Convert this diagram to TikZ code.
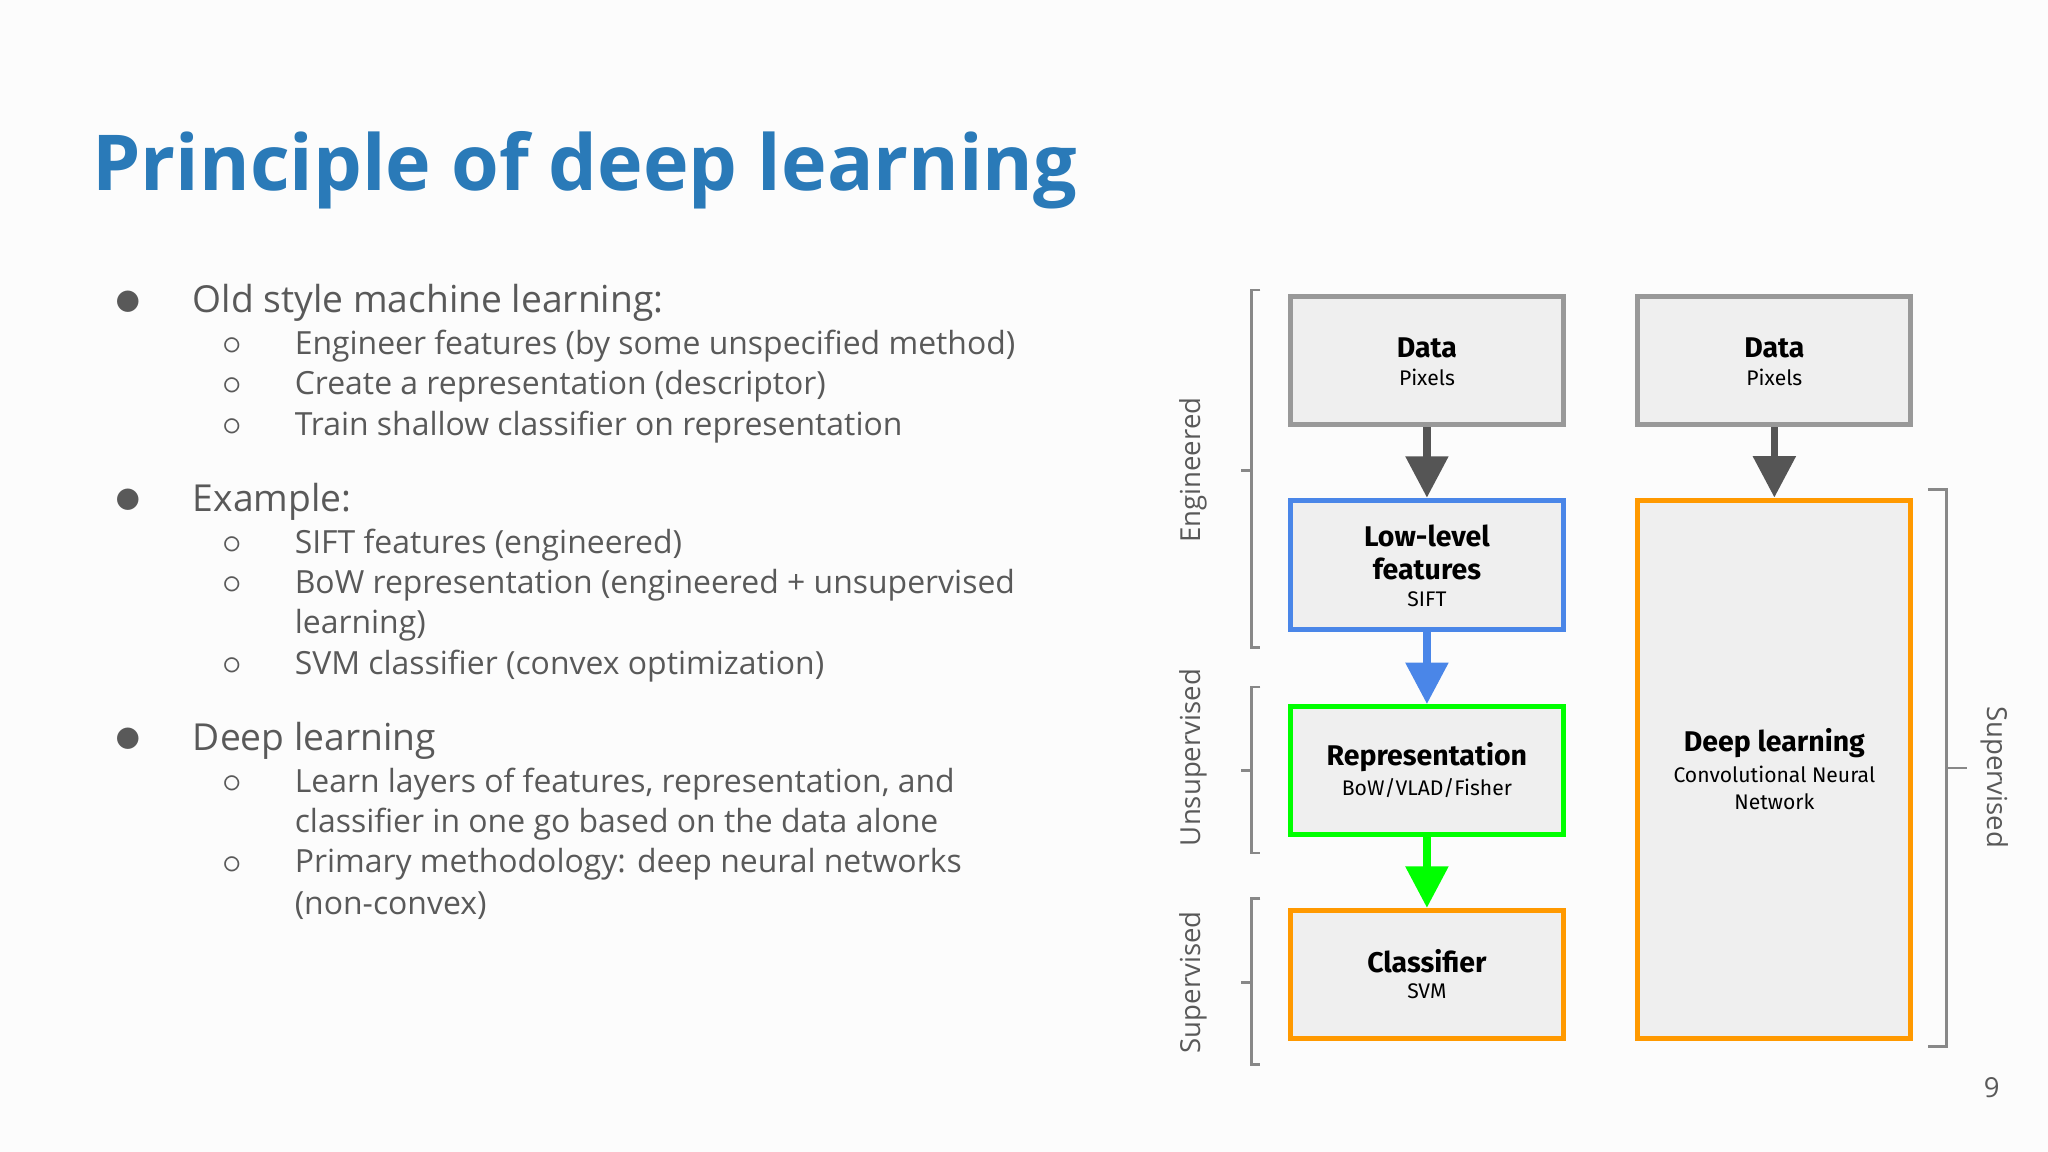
\documentclass[tikz,border=0pt]{standalone}
\usepackage{fontspec}
\setmainfont{Open Sans}
\newfontfamily\boxf{Fira Sans}
\usetikzlibrary{arrows.meta}
\definecolor{tblue}{HTML}{2A7AB8}
\definecolor{txt}{HTML}{595959}
\definecolor{bgray}{HTML}{999999}
\definecolor{bfill}{HTML}{EFEFEF}
\definecolor{bblue}{HTML}{4A86E8}
\definecolor{bgreen}{HTML}{00FF00}
\definecolor{borange}{HTML}{FF9900}
\definecolor{agray}{HTML}{555555}
\begin{document}
\begin{tikzpicture}[x=0.01cm,y=-0.01cm,
  bx/.style={draw, line width=1.1pt, fill=bfill, inner sep=0pt},
  bt/.style={font=\boxf\fontsize{6.2}{7}\selectfont\bfseries, align=center, text=black},
  bs/.style={font=\boxf\fontsize{4.6}{5.8}\selectfont, align=center, text=black},
  ar/.style={line width=1.6pt, -{Triangle[length=9pt,width=9pt]}},
  br/.style={draw=agray!70, line width=0.6pt},
  lab/.style={font=\fontsize{6}{7}\selectfont, text=txt},
  l1/.style={anchor=west, inner sep=0pt, font=\fontsize{8.1}{9}\selectfont, text=txt},
  l2/.style={anchor=west, inner sep=0pt, font=\fontsize{6.95}{8}\selectfont, text=txt},
  dot/.style={anchor=center, font=\fontsize{8}{9}\selectfont, text=txt}]
\useasboundingbox (0,0) rectangle (1568,882);
\fill[white!98!gray] (0,0) rectangle (1568,882);
\node[anchor=west, inner sep=0pt, font=\fontsize{16.8}{19}\selectfont\bfseries, text=tblue] (title) at (70,130) {Principle of deep learning};
% bullets
\foreach \y/\t in {232/Old style machine learning:, 384/Example:, 567/Deep learning}{
  \node[dot] at (98,\y) {\large$\bullet$};
  \node[l1] at (147,\y) {\t};}
\foreach \y/\t in {265/Engineer features (by some unspecified method), 296/Create a representation (descriptor), 327/Train shallow classifier on representation,
 417/SIFT features (engineered), 448/BoW representation (engineered + unsupervised, 510/SVM classifier (convex optimization),
 600/{Learn layers of features, representation, and}, 662/Primary methodology: deep neural networks}{
  \node[dot] at (178,\y) {$\circ$};
  \node[l2] at (225,\y) {\t};}
\foreach \y/\t in {479/learning), 631/classifier in one go based on the data alone, 693/(non-convex)}{
  \node[l2] at (225,\y) {\t};}
% boxes
\node[bx, draw=bgray, minimum width=2.09cm, minimum height=0.98cm] (d1) at (1092.5,276) {};
\node[bt] at (1092.5,266) {Data}; \node[bs] at (1092.5,289) {Pixels};
\node[bx, draw=bblue, minimum width=2.09cm, minimum height=0.99cm] (ll) at (1092.5,432.5) {};
\node[bt] at (1092.5,423) {Low-level\\features}; \node[bs] at (1092.5,459) {SIFT};
\node[bx, draw=bgreen, minimum width=2.09cm, minimum height=0.98cm] (rep) at (1092.5,590) {};
\node[bt] at (1092.5,580) {Representation}; \node[bs] at (1092.5,603) {BoW/VLAD/Fisher};
\node[bx, draw=borange, minimum width=2.09cm, minimum height=0.98cm] (cl) at (1092.5,746) {};
\node[bt] at (1092.5,736) {Classifier}; \node[bs] at (1092.5,759) {SVM};
\node[bx, draw=bgray, minimum width=2.09cm, minimum height=0.98cm] (d2) at (1358.5,276) {};
\node[bt] at (1358.5,266) {Data}; \node[bs] at (1358.5,289) {Pixels};
\node[bx, draw=borange, minimum width=2.09cm, minimum height=4.12cm] (dl) at (1358.5,589) {};
\node[bt] at (1358.5,569) {Deep learning}; \node[bs] at (1358.5,603) {Convolutional Neural\\Network};
% arrows
\draw[ar, agray] (d1) -- (ll);
\draw[ar, bblue] (ll) -- (rep);
\draw[ar, bgreen] (rep) -- (cl);
\draw[ar, agray] (d2) -- (dl);
% brackets
\draw[br] (965,222) -- (958,222) -- (958,496) -- (965,496) (958,360) -- (950,360);
\node[lab, rotate=90] (e) at (914,360) {Engineered};
\draw[br] (965,526) -- (958,526) -- (958,653) -- (965,653) (958,590) -- (950,590);
\node[lab, rotate=90] (u) at (914,580) {Unsupervised};
\draw[br] (965,688) -- (958,688) -- (958,815) -- (965,815) (958,752) -- (950,752);
\node[lab, rotate=90] (s) at (914,752) {Supervised};
\draw[br] (1476,375) -- (1490,375) -- (1490,801) -- (1476,801) (1490,588) -- (1506,588);
\node[lab, rotate=-90] (s2) at (1527,595) {Supervised};
\node[lab] (pg) at (1525,833) {9};
\end{tikzpicture}
\end{document}
